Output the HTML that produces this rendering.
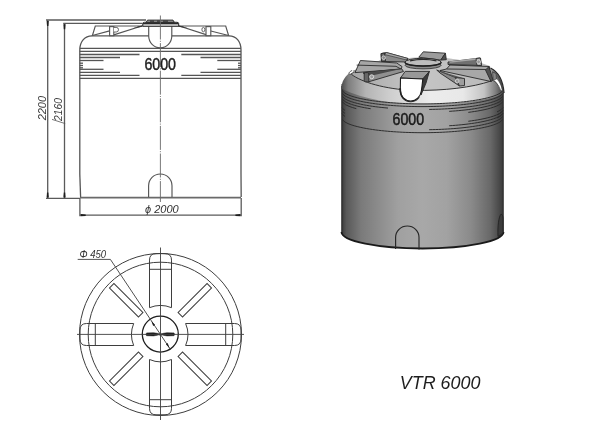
<!DOCTYPE html>
<html><head><meta charset="utf-8">
<style>
html,body{margin:0;padding:0;background:#fff;width:600px;height:421px;overflow:hidden}
svg{display:block;filter:grayscale(1) blur(0.35px)}
text{font-family:"Liberation Sans",sans-serif}
</style></head>
<body>
<svg width="600" height="421" viewBox="0 0 600 421">
<defs>
<linearGradient id="body" x1="341.5" y1="0" x2="503.5" y2="0" gradientUnits="userSpaceOnUse">
<stop offset="0" stop-color="#383838"/>
<stop offset="0.03" stop-color="#585858"/>
<stop offset="0.12" stop-color="#7a7a7a"/>
<stop offset="0.35" stop-color="#a0a0a0"/>
<stop offset="0.5" stop-color="#a8a8a8"/>
<stop offset="0.65" stop-color="#a2a2a2"/>
<stop offset="0.8" stop-color="#8a8a8a"/>
<stop offset="0.92" stop-color="#686868"/>
<stop offset="1" stop-color="#3a3a3a"/>
</linearGradient>
<linearGradient id="sh" x1="341.5" y1="0" x2="503.5" y2="0" gradientUnits="userSpaceOnUse">
<stop offset="0" stop-color="#4a4a4a"/>
<stop offset="0.04" stop-color="#7c7c7c"/>
<stop offset="0.15" stop-color="#b4b4b4"/>
<stop offset="0.3" stop-color="#cecece"/>
<stop offset="0.55" stop-color="#ececec"/>
<stop offset="0.75" stop-color="#e8e8e8"/>
<stop offset="0.88" stop-color="#c4c4c4"/>
<stop offset="0.95" stop-color="#808080"/>
<stop offset="1" stop-color="#404040"/>
</linearGradient>
<linearGradient id="cone" x1="351" y1="0" x2="493" y2="0" gradientUnits="userSpaceOnUse">
<stop offset="0" stop-color="#a6a6a6"/>
<stop offset="0.45" stop-color="#c6c6c6"/>
<stop offset="1" stop-color="#bababa"/>
</linearGradient>
<marker id="arr" viewBox="0 0 6 6" refX="6" refY="3" markerWidth="6" markerHeight="6" orient="auto-start-reverse" markerUnits="userSpaceOnUse">
<path d="M0,1.3 L6,3 L0,4.7 z" fill="#222"/>
</marker>
</defs>
<!-- ================= FRONT VIEW ================= -->
<g fill="none" stroke="#5a5a5a" stroke-width="1.3">
  <line x1="46" y1="20" x2="146" y2="20"/>
  <line x1="63.2" y1="23.3" x2="142.5" y2="23.3"/>
  <line x1="47.7" y1="20" x2="47.7" y2="198.3"/>
  <line x1="64.5" y1="23.3" x2="64.5" y2="198.3"/>
  <line x1="46" y1="198.3" x2="80" y2="198.3"/>
  <line x1="79.9" y1="198" x2="79.9" y2="216.3"/>
  <line x1="241.2" y1="198" x2="241.2" y2="216.3"/>
  <line x1="80" y1="215.2" x2="241" y2="215.2"/>
</g>
<g fill="#1e1e1e">
  <path d="M46.6,21 L48.8,21 L48.4,26 L47,26 z"/>
  <path d="M63.4,24.3 L65.6,24.3 L65.2,29.3 L63.8,29.3 z"/>
  <path d="M46.6,197.5 L48.8,197.5 L48.4,192.5 L47,192.5 z"/>
  <path d="M63.4,197.5 L65.6,197.5 L65.2,192.5 L63.8,192.5 z"/>
  <path d="M80.7,214.1 L80.7,216.3 L85.7,215.9 L85.7,214.5 z"/>
  <path d="M240.4,214.1 L240.4,216.3 L235.4,215.9 L235.4,214.5 z"/>
</g>
<line x1="80" y1="197.6" x2="241" y2="197.6" stroke="#6a6a6a" stroke-width="1.8"/>

<!-- tank outline -->
<g fill="none" stroke="#555" stroke-width="1.3">
  <path d="M79.8,174 L79.8,50 C79.8,41 85,36 92,35.8 L148.7,35.8"/>
  <path d="M171.8,35.8 L229,35.8 C236,36 241,41 241,50 L241,174 L241.2,197"/>
  <path d="M79.8,174 L80.6,197"/>
  <line x1="79.8" y1="48.3" x2="241" y2="48.3"/>
  <line x1="79.8" y1="51.3" x2="241" y2="51.3"/>
  <line x1="79.8" y1="54.5" x2="139.5" y2="54.5"/>
  <line x1="79.8" y1="57.5" x2="120" y2="57.5"/>
  <line x1="79.8" y1="60.5" x2="103.5" y2="60.5"/>
  <line x1="79.8" y1="63.2" x2="83" y2="63.2"/>
  <line x1="79.8" y1="65.5" x2="83" y2="65.5"/>
  <line x1="79.8" y1="67.8" x2="83" y2="67.8"/>
  <line x1="79.8" y1="69.3" x2="103.5" y2="69.3"/>
  <line x1="79.8" y1="72.3" x2="120" y2="72.3"/>
  <line x1="79.8" y1="75.3" x2="139.5" y2="75.3"/>
  <line x1="79.8" y1="78.3" x2="241" y2="78.3"/>
  <line x1="181.3" y1="54.5" x2="241" y2="54.5"/>
  <line x1="200.5" y1="57.5" x2="241" y2="57.5"/>
  <line x1="217.3" y1="60.5" x2="241" y2="60.5"/>
  <line x1="238" y1="63.2" x2="241" y2="63.2"/>
  <line x1="238" y1="65.5" x2="241" y2="65.5"/>
  <line x1="238" y1="67.8" x2="241" y2="67.8"/>
  <line x1="217.3" y1="69.3" x2="241" y2="69.3"/>
  <line x1="200.5" y1="72.3" x2="241" y2="72.3"/>
  <line x1="181.3" y1="75.3" x2="241" y2="75.3"/>
</g>
<g fill="none" stroke="#555" stroke-width="1.15">
  <path d="M142.5,26 L95.3,26 L92.4,35.5 L109.6,30.9 M113.8,34.9 L142.5,25.8"/>
  <path d="M132,28.6 L142.5,25.3 L142.5,26.8 z" fill="#333" stroke="none"/>
  <rect x="109.6" y="26.6" width="4.2" height="9.1" fill="#fff"/>
  <path d="M113.8,27.4 L116.2,27.4 A2.3,2.3 0 0 1 116.2,32 L113.8,32" fill="#fff" stroke-width="0.9"/>
  <path d="M178.3,26 L225.7,26 L228.6,35.5 L210.8,31 M206,34.6 L178.5,25.8"/>
  <path d="M189,28.6 L178.5,25.3 L178.5,26.8 z" fill="#333" stroke="none"/>
  <rect x="206" y="26.6" width="4.8" height="9.1" fill="#fff"/>
  <ellipse cx="203.4" cy="29.6" rx="1.5" ry="2.2" fill="#fff" stroke-width="0.9"/>
  <path d="M148.7,26.4 L148.7,36 A11.55,11.8 0 0 0 171.8,36 L171.8,26.4"/>
  <path d="M148.6,197.3 L148.6,185.8 A11.7,11.8 0 0 1 172,185.8 L172,197.3"/>
</g>
<!-- lid -->
<g stroke="#222" stroke-width="1">
  <path d="M142.8,26.3 L142.8,23.6 Q142.8,22.3 144.5,22.3 L177,22.3 Q178.7,22.3 178.7,23.6 L178.7,26.3 z" fill="#dcdcdc"/>
  <path d="M146.2,22.3 L147.5,20.1 L173,20.1 L174.3,22.3 z" fill="#9a9a9a" stroke-width="0.9"/>
  <line x1="143" y1="23.6" x2="178.5" y2="23.6" stroke="#2a2a2a" stroke-width="1.2"/>
  <path d="M150,21.2 h4 M157,21.2 h3 M163,21.2 h5" stroke="#333" stroke-width="1.2"/>
</g>
<line x1="160.4" y1="15.5" x2="160.4" y2="202" stroke="#6a6a6a" stroke-width="0.9" stroke-dasharray="24 1.3 1 1.3"/>
<text x="144.4" y="69.8" font-size="16" fill="#1e1e1e" stroke="#1e1e1e" stroke-width="0.45" textLength="31.6" lengthAdjust="spacingAndGlyphs">6000</text>
<text x="145" y="213" font-size="11" font-style="italic" fill="#333">ϕ 2000</text>
<text transform="translate(45.6,120.3) rotate(-90)" font-size="10" font-style="italic" fill="#3a3a3a" textLength="24.3" lengthAdjust="spacingAndGlyphs">2200</text>
<text transform="translate(62.3,121) rotate(-90)" font-size="10.3" font-style="italic" fill="#3a3a3a">2160</text>
<line x1="52" y1="119.4" x2="65.2" y2="123.6" stroke="#555" stroke-width="0.8"/>

<!-- ================= TOP VIEW ================= -->
<g fill="none" stroke="#3e3e3e" stroke-width="1">
  <circle cx="160.5" cy="334.5" r="81"/>
  <circle cx="160.5" cy="334.5" r="72.3"/>
</g>
<g fill="none" stroke="#3e3e3e" stroke-width="1"><g transform="rotate(0 160.5 334.5)"><path d="M149.50,307.67 L149.50,260.10 Q149.50,253.60 156.00,253.60 L165.00,253.60 Q171.50,253.60 171.50,260.10 L171.50,307.67 A29,29 0 0 0 149.50,307.67 z"/><line x1="149.50" y1="269.30" x2="171.50" y2="269.30"/></g><g transform="rotate(90 160.5 334.5)"><path d="M149.50,309.40 L149.50,260.50 Q149.50,254.00 156.00,254.00 L165.00,254.00 Q171.50,254.00 171.50,260.50 L171.50,309.40 A27.4,27.4 0 0 0 149.50,309.40 z"/><line x1="149.50" y1="269.30" x2="171.50" y2="269.30"/></g><g transform="rotate(180 160.5 334.5)"><path d="M149.50,309.51 L149.50,260.70 Q149.50,254.20 156.00,254.20 L165.00,254.20 Q171.50,254.20 171.50,260.70 L171.50,309.51 A27.3,27.3 0 0 0 149.50,309.51 z"/><line x1="149.50" y1="269.30" x2="171.50" y2="269.30"/></g><g transform="rotate(270 160.5 334.5)"><path d="M149.50,307.67 L149.50,260.50 Q149.50,254.00 156.00,254.00 L165.00,254.00 Q171.50,254.00 171.50,260.50 L171.50,307.67 A29,29 0 0 0 149.50,307.67 z"/><line x1="149.50" y1="269.30" x2="171.50" y2="269.30"/></g></g>
<g fill="none" stroke="#3e3e3e" stroke-width="1"><rect x="157.35" y="265.5" width="6.3" height="41" transform="rotate(-45 160.5 334.5)"/><rect x="157.35" y="265.5" width="6.3" height="41" transform="rotate(45 160.5 334.5)"/><rect x="157.35" y="265.5" width="6.3" height="41" transform="rotate(135 160.5 334.5)"/><rect x="157.35" y="265.5" width="6.3" height="41" transform="rotate(225 160.5 334.5)"/></g>
<circle cx="160.3" cy="334.1" r="18" fill="none" stroke="#1e1e1e" stroke-width="1.3"/>
<path d="M146.6,332.9 L153.5,332.7 Q157.5,333.1 160.3,334.3 Q157.5,335.5 153.5,335.9 L146.6,335.7 Q145.2,334.3 146.6,332.9 z M174,332.9 L167,332.7 Q163,333.1 160.3,334.3 Q163,335.5 167,335.9 L174,335.7 Q175.4,334.3 174,332.9 z" fill="#1e1e1e" stroke="#1e1e1e" stroke-width="0.5"/><circle cx="160.3" cy="334.3" r="1.3" fill="none" stroke="#444" stroke-width="0.6"/>
<g stroke="#3e3e3e" stroke-width="0.9" fill="none">
  <line x1="160.5" y1="247.5" x2="160.5" y2="420"/>
  <line x1="77" y1="334.4" x2="244" y2="334.4"/>
  <path d="M77.7,259.4 L110.4,259.4 L170.5,349.5"/>
</g>
<path d="M151.3,320.9 L155,324.8 L153.2,326 z M169.5,348.2 L167.7,343.1 L165.9,344.3 z" fill="#1e1e1e"/>
<text x="79.5" y="257.8" font-size="10.5" font-style="italic" fill="#333" textLength="26.7" lengthAdjust="spacingAndGlyphs">Φ 450</text>

<!-- ================= 3D VIEW ================= -->
<g>
  <!-- body -->
  <path d="M341.5,84 L341.5,232 A81,16.5 0 0 0 503.5,232 L503.5,88 Z" fill="url(#body)"/>
  <path d="M341.5,232 A81,16.5 0 0 0 503.5,232" fill="none" stroke="#1a1a1a" stroke-width="1.8"/>
  <path d="M341.9,86 L341.9,232" fill="none" stroke="#2a2a2a" stroke-width="1"/>
  <path d="M503.1,92 L503.1,232" fill="none" stroke="#2a2a2a" stroke-width="1"/>
  <!-- shoulder -->
  <path id="shp" d="M341.5,89 C341.5,81 345,76 352,71 L381,60 L423,57 L446,58 L481,63 L491,68.5 C498,72 503.5,80 503.5,94 L503,94 C490,100 460,104 422.5,104 C395,104 365,100 342,89 z" fill="url(#sh)"/>
  <!-- top cone -->
  <path d="M351.3,74.2 C361,82 385,89.2 413,90.4 C445,90.8 472,87.5 493,80 L490,66 L481,63 L446,58 L423,57 L381,60 z" fill="url(#cone)"/>
  <path d="M351.3,74.2 C361,82 385,89.2 413,90.4 C445,90.8 472,87.5 491,81" fill="none" stroke="#333" stroke-width="1"/>
  <g fill="none" stroke="#2e2e2e" stroke-width="1"><path d="M342.00,90.56 L345.04,93.28 L348.08,94.82 L351.11,95.99 L354.15,96.95 L357.19,97.77 L360.23,98.49 L363.26,99.13 L366.30,99.70 L369.34,100.22 L372.38,100.68 L375.42,101.11 L378.45,101.49 L381.49,101.84 L384.53,102.15 L387.57,102.43 L390.60,102.69 L393.64,102.92 L396.68,103.12 L399.72,103.29 L402.75,103.45 L405.79,103.58 L408.83,103.68 L411.87,103.77 L414.91,103.83 L417.94,103.88 L420.98,103.90 L424.02,103.90 L427.06,103.88 L430.09,103.83 L433.13,103.77 L436.17,103.68 L439.21,103.58 L442.25,103.45 L445.28,103.29 L448.32,103.12 L451.36,102.92 L454.40,102.69 L457.43,102.43 L460.47,102.15 L463.51,101.84 L466.55,101.49 L469.58,101.11 L472.62,100.68 L475.66,100.22 L478.70,99.70 L481.74,99.13 L484.77,98.49 L487.81,97.77 L490.85,96.95 L493.89,95.99 L496.92,94.82 L499.96,93.28 L503.00,90.56"/><path d="M342.00,93.26 L345.04,95.98 L348.08,97.52 L351.11,98.69 L354.15,99.65 L357.19,100.47 L360.23,101.19 L363.26,101.83 L366.30,102.40 L369.34,102.92 L372.38,103.38 L375.42,103.81 L378.45,104.19 L381.49,104.54 L384.53,104.85 L387.57,105.13 L390.60,105.39 L393.64,105.62 L396.68,105.82 L399.72,105.99 L402.75,106.15 L405.79,106.28 L408.83,106.38 L411.87,106.47 L414.91,106.53 L417.94,106.58 L420.98,106.60 L424.02,106.60 L427.06,106.58 L430.09,106.53 L433.13,106.47 L436.17,106.38 L439.21,106.28 L442.25,106.15 L445.28,105.99 L448.32,105.82 L451.36,105.62 L454.40,105.39 L457.43,105.13 L460.47,104.85 L463.51,104.54 L466.55,104.19 L469.58,103.81 L472.62,103.38 L475.66,102.92 L478.70,102.40 L481.74,101.83 L484.77,101.19 L487.81,100.47 L490.85,99.65 L493.89,98.69 L496.92,97.52 L499.96,95.98 L503.00,93.26"/><path d="M342.00,96.16 L345.07,98.90 L348.13,100.44 L351.20,101.62 L354.27,102.58 L357.33,103.41 L360.40,104.13 L363.47,104.77 L366.53,105.34 L369.60,105.86 L372.67,106.33 L375.73,106.75 L378.80,107.13 L381.87,107.48 L384.93,107.79 L388.00,108.07"/><path d="M342.00,98.86 L345.19,101.68 L348.38,103.25 L351.57,104.44 L354.76,105.42 L357.94,106.26 L361.13,106.99 L364.32,107.64 L367.51,108.21 L370.70,108.73"/><path d="M342.00,101.66 L345.57,104.70 L349.15,106.36 L352.73,107.62 L356.30,108.64"/><path d="M342.00,119.36 L345.04,122.08 L348.08,123.62 L351.11,124.79 L354.15,125.75 L357.19,126.57 L360.23,127.29 L363.26,127.93 L366.30,128.50 L369.34,129.02 L372.38,129.48 L375.42,129.91 L378.45,130.29 L381.49,130.64 L384.53,130.95 L387.57,131.23 L390.60,131.49 L393.64,131.72 L396.68,131.92 L399.72,132.09 L402.75,132.25 L405.79,132.38 L408.83,132.48 L411.87,132.57 L414.91,132.63 L417.94,132.68 L420.98,132.70 L424.02,132.70 L427.06,132.68 L430.09,132.63 L433.13,132.57 L436.17,132.48 L439.21,132.38 L442.25,132.25 L445.28,132.09 L448.32,131.92 L451.36,131.72 L454.40,131.49 L457.43,131.23 L460.47,130.95 L463.51,130.64 L466.55,130.29 L469.58,129.91 L472.62,129.48 L475.66,129.02 L478.70,128.50 L481.74,127.93 L484.77,127.29 L487.81,126.57 L490.85,125.75 L493.89,124.79 L496.92,123.62 L499.96,122.08 L503.00,119.36"/><path d="M429.20,109.45 L432.27,109.39 L435.35,109.31 L438.43,109.21 L441.50,109.08 L444.57,108.93 L447.65,108.76 L450.73,108.56 L453.80,108.33 L456.88,108.08 L459.95,107.80 L463.02,107.49 L466.10,107.14 L469.18,106.76 L472.25,106.34 L475.32,105.87 L478.40,105.36 L481.48,104.78 L484.55,104.14 L487.62,103.42 L490.70,102.59 L493.77,101.63 L496.85,100.45 L499.93,98.91 L503.00,96.16"/><path d="M449.20,111.36 L452.36,111.14 L455.53,110.90 L458.69,110.62 L461.86,110.31 L465.02,109.97 L468.19,109.59 L471.35,109.16 L474.52,108.70 L477.68,108.18 L480.85,107.60 L484.01,106.96 L487.18,106.23 L490.34,105.40 L493.51,104.42 L496.67,103.23 L499.84,101.66 L503.00,98.86"/><path d="M468.30,112.37 L471.45,111.95 L474.61,111.48 L477.76,110.97 L480.92,110.39 L484.07,109.75 L487.23,109.02 L490.38,108.18 L493.54,107.21 L496.69,106.02 L499.85,104.45 L503.00,101.66"/><path d="M468.30,121.27 L471.45,120.85 L474.61,120.38 L477.76,119.87 L480.92,119.29 L484.07,118.65 L487.23,117.92 L490.38,117.08 L493.54,116.11 L496.69,114.92 L499.85,113.35 L503.00,110.56"/><path d="M449.20,125.76 L452.36,125.54 L455.53,125.30 L458.69,125.02 L461.86,124.71 L465.02,124.37 L468.19,123.99 L471.35,123.56 L474.52,123.10 L477.68,122.58 L480.85,122.00 L484.01,121.36 L487.18,120.63 L490.34,119.80 L493.51,118.82 L496.67,117.63 L499.84,116.06 L503.00,113.26"/><path d="M429.20,129.70 L432.27,129.64 L435.35,129.56 L438.43,129.46 L441.50,129.33 L444.57,129.18 L447.65,129.01 L450.73,128.81 L453.80,128.58 L456.88,128.33 L459.95,128.05 L463.02,127.74 L466.10,127.39 L469.18,127.01 L472.25,126.59 L475.32,126.12 L478.40,125.61 L481.48,125.03 L484.55,124.39 L487.62,123.67 L490.70,122.84 L493.77,121.88 L496.85,120.70 L499.93,119.16 L503.00,116.41"/><path d="M342.00,107.66 L343.00,108.87 L344.00,109.70 L345.00,110.36"/><path d="M342.00,110.66 L343.00,111.87 L344.00,112.70 L345.00,113.36"/><path d="M342.00,113.66 L343.00,114.87 L344.00,115.70 L345.00,116.36"/><path d="M497.00,111.89 L499.00,110.93 L501.00,109.70 L503.00,107.66"/><path d="M497.00,114.89 L499.00,113.93 L501.00,112.70 L503.00,110.66"/><path d="M497.00,117.89 L499.00,116.93 L501.00,115.70 L503.00,113.66"/></g>
  <!-- ribs -->
  <g stroke="#2a2a2a" stroke-width="0.9" stroke-linejoin="round">
    <!-- back rib -->
    <path d="M423.3,51.8 L445.4,53.2 L440.8,60.1 L418.8,57.2 z" fill="#9c9c9c"/>
    <path d="M445.4,53.2 L446.3,59.7 L440.8,60.1 z" fill="#505050"/>
    <!-- back-left rib -->
    <path d="M381.1,53.6 L386.4,52.5 L408,58.5 L406,62 L381.5,61.4 z" fill="#8a8a8a"/>
    <path d="M386.4,52.5 L408,58.5 L406,59.8 L384.5,54.5 z" fill="#aaa" stroke-width="0.6"/>
    <path d="M381.1,53.6 L384.5,53 L385.5,61.4 L381.5,61.4 z" fill="#6a6a6a"/>
    <circle cx="383.7" cy="57.7" r="1.8" fill="#888" stroke="#ddd" stroke-width="0.8"/>
    <!-- left wide rib -->
    <path d="M360.4,60.5 L396.7,63 L402,66.5 L401.2,69.2 L355,72.6 z" fill="#a6a6a6"/>
    <path d="M356.7,65.1 L396,66.3 L401.2,69.2" fill="none"/>
    <path d="M363,73 L401.2,69.2 L372,75.5 z" fill="#3a3a3a"/>
    <!-- front-left thin rib -->
    <path d="M364.2,72.6 L401.7,68.8 L403.5,71.5 L368.75,81.75 z" fill="#909090"/>
    <path d="M366,72.5 L401.7,68.8 L370,76 z" fill="#4a4a4a" stroke="none"/>
    <rect x="364.2" y="72.6" width="4.6" height="9.2" rx="1.3" fill="#666"/>
    <circle cx="371.7" cy="76.75" r="2" fill="#999" stroke="#e0e0e0" stroke-width="0.9"/>
    <!-- lid -->
    <ellipse cx="423.1" cy="65.3" rx="18" ry="3.6" fill="#8a8a8a" stroke-width="0.8"/>
    <ellipse cx="423.1" cy="62.2" rx="18.1" ry="3.9" fill="#bdbdbd" stroke-width="1"/>
    <path d="M405,62.2 A18.1,3.9 0 0 0 441.2,62.2" fill="none" stroke="#1e1e1e" stroke-width="1.5"/>
    <path d="M410,60.8 Q423,57.8 436.5,60.8" fill="none" stroke="#2a2a2a" stroke-width="1.2"/>
    <!-- front hatch -->
    <path d="M400.5,78 L405.2,71.4 L429.4,71.4 L422.8,79 z" fill="#989898"/>
    <path d="M422.8,79 L429.4,71.4 L426,83 L421,95 z" fill="#3a3a3a"/>
    <path d="M400.5,78 L422.8,79 C422.3,84 421.8,88 421.3,91 C420.5,97 416,101 410.8,101 C404.8,101 400.3,96.5 400.3,90 Z" fill="#fff" stroke="#1a1a1a" stroke-width="1.1"/>
    <path d="M399.4,88 C399.2,97 404,102.4 411,102.2 C416,102 419,99 420,96.5 C417,100 414,101.3 410.8,101.3 C404.5,101.3 401,96.5 401,88 z" fill="#222" stroke="none"/>
    <!-- front-right thin rib -->
    <path d="M436.7,70 L455.5,77.5 L459.5,86 L440,73 z" fill="#8a8a8a"/>
    <path d="M438,70.5 L464.5,78.5 L455.5,77.5 z" fill="#555" stroke="none"/>
    <path d="M455.5,77.5 L464.5,78.5 L464.5,85.5 L459.5,86 z" fill="#9e9e9e"/>
    <circle cx="457.2" cy="81" r="1.8" fill="#999" stroke="#ddd" stroke-width="0.8"/>
    <!-- right wide rib -->
    <path d="M450,65 L489,66.5 L491,81.5 L440,70.5 L446.5,69 z" fill="#a8a8a8"/>
    <path d="M446.5,69 L486,69.5" fill="none"/>
    <path d="M489,66.5 L493,80 L491,81.5 L485.5,70 z" fill="#505050"/>
    <!-- back-right thin rib -->
    <path d="M448,62 L480,58 L481.5,65.5 L448,64.5 z" fill="#707070"/>
    <path d="M449,61.6 L479,57.8 L479.5,59.5 L450,62.8 z" fill="#a8a8a8" stroke="none"/>
    <path d="M476,58.5 L480.5,58 L481.5,65.5 L477,65.5 z" fill="#aaa"/>
    <circle cx="478.6" cy="61.8" r="1.9" fill="#999" stroke="#ddd" stroke-width="0.8"/>
  </g>
  <!-- handles -->
  <path d="M352,70.5 C349,72 348,73.5 350,74.5 L354,72" fill="#fff" stroke="#333" stroke-width="0.8"/>
  <path d="M493.5,76 C497.5,79 501,84 502.3,91 L499.5,88.5 C498,84 496,81 493.5,79.5 z" fill="#fff" stroke="none"/>
  <path d="M490.5,68 C497.5,71.5 503,79 504,93" fill="none" stroke="#2a2a2a" stroke-width="1.3"/>
  <path d="M492.5,71.5 C497.5,74.5 501.5,81 502.5,91" fill="none" stroke="#444" stroke-width="0.8"/>
  <path d="M493,80.5 C496,82 498.5,85 500,89" fill="none" stroke="#444" stroke-width="0.8"/>
  <path d="M492.5,72 L496,73.5 L496.5,79 L493.5,80 z" fill="#888" stroke="#333" stroke-width="0.6"/>
  <!-- text -->
  <text x="392.6" y="125.1" font-size="16.6" fill="#1a1a1a" stroke="#1a1a1a" stroke-width="0.5" textLength="31.5" lengthAdjust="spacingAndGlyphs">6000</text>
  <!-- bottom arches -->
  <path d="M395.6,249 L395.6,237.3 A11.7,11.3 0 0 1 419,237.3 L419,249.5" fill="none" stroke="#262626" stroke-width="1.15"/>
  <path d="M498,236.5 C497.5,226 498.8,216.5 501,214.2 C502.2,214.2 502.8,216 503,218 L503,233 z" fill="#3c3c3c" stroke="#222" stroke-width="0.9"/>
</g>

<text x="399.8" y="388.6" font-size="18.7" font-style="italic" fill="#1e1e1e" textLength="80.6" lengthAdjust="spacingAndGlyphs">VTR 6000</text>
</svg>
</body></html>
